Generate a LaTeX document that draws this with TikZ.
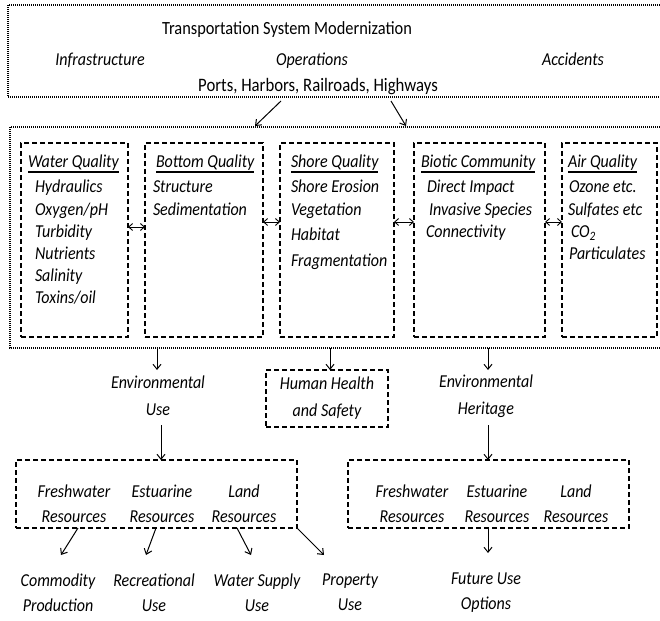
\documentclass[tikz,border=0pt]{standalone}
\usepackage{fontspec}
\setmainfont{Carlito}[FakeStretch=0.88]
\usetikzlibrary{arrows.meta}
\begin{document}
\begin{tikzpicture}[x=1pt,y=-1pt,
  every node/.style={inner sep=0pt, outer sep=0pt},
  lbl/.style={font=\fontsize{18.2}{25}\selectfont\itshape, align=center},
  lblb/.style={font=\fontsize{18.2}{27}\selectfont\itshape, align=center},
  item/.style={font=\fontsize{18.2}{22}\selectfont\itshape, anchor=base west},
  hdr/.style={font=\fontsize{18.2}{22}\selectfont\itshape, anchor=base west, text depth=4pt},
  ttl/.style={font=\fontsize{18.6}{20}\selectfont, anchor=base},
  top/.style={font=\fontsize{18.2}{20}\selectfont\itshape, anchor=base},
  dotbox/.style={line width=1.3pt, dash pattern=on 1pt off 1pt},
  qbox/.style={draw, line width=1.4pt, dash pattern=on 5pt off 3pt, minimum height=194pt},
  rbox/.style={draw, line width=1.7pt, dash pattern=on 5pt off 3pt, minimum width=281pt, minimum height=68pt},
  hbox/.style={draw, line width=2.1pt, dash pattern=on 5pt off 3pt, minimum width=122pt, minimum height=57pt},
  arr/.style={-{Straight Barb[length=5pt,width=8pt]}, line width=1pt},
  darr/.style={{Straight Barb[length=4pt,width=7pt]}-{Straight Barb[length=4pt,width=7pt]}, line width=0.9pt},
  uline/.style={line width=1.4pt},
]
\useasboundingbox (0,0) rectangle (660,620);

% ---------- top box ----------
\node (sys) [minimum width=652pt, minimum height=92pt] at (334,51) {};
\draw[dotbox] (sys.north east) -- (sys.north west) -- (sys.south west) -- (sys.south east);
\node[ttl] (title) at (287,35) {Transportation System Modernization};
\node[top] (infra) at (100,66) {Infrastructure};
\node[top] (oper) at (312,66) {Operations};
\node[top] (acc) at (573,66) {Accidents};
\node[font=\fontsize{19}{20}\selectfont, anchor=base] (ports) at (318,92) {Ports, Harbors, Railroads, Highways};

% ---------- environment box ----------
\node (env) [minimum width=650pt, minimum height=221pt] at (335,237.5) {};
\draw[dotbox] (env.north east) -- (env.north west) -- (env.south west) -- (env.south east);

\coordinate (a1s) at (281,101);
\coordinate (a1e) at (255,126);
\coordinate (a2s) at (391,101);
\coordinate (a2e) at (406,126);
\draw[arr] (a1s) -- (a1e);
\draw[arr] (a2s) -- (a2e);

% ---------- quality boxes ----------
\node[qbox, minimum width=107pt] (wq) at (74.5,240) {};
\node[qbox, minimum width=118pt] (bq) at (204,240) {};
\node[qbox, minimum width=114pt] (sq) at (337,240) {};
\node[qbox, minimum width=131pt] (bc) at (479.5,240) {};
\node[qbox, minimum width=95pt] (aq) at (609.5,240) {};

\node[hdr] (h1) at (28,168) {Water Quality};
\node[hdr] (h2) at (156,168) {Bottom Quality};
\node[hdr] (h3) at (291,168) {Shore Quality};
\node[hdr] (h4) at (421,168) {Biotic Community};
\node[hdr] (h5) at (568,168) {Air Quality};
\foreach \h in {h1,h2,h3,h4,h5}
  \draw[uline] (\h.south west) -- (\h.south east);

\node[item] (w1) at (35,193) {Hydraulics};
\node[item] (w2) at (35,215) {Oxygen/pH};
\node[item] (w3) at (35,237) {Turbidity};
\node[item] (w4) at (35,259) {Nutrients};
\node[item] (w5) at (35,281) {Salinity};
\node[item] (w6) at (35,303) {Toxins/oil};

\node[item] (b1) at (153,193) {Structure};
\node[item] (b2) at (153,215) {Sedimentation};

\node[item] (s1) at (291,193) {Shore Erosion};
\node[item] (s2) at (291,215) {Vegetation};
\node[item] (s3) at (291,240) {Habitat};
\node[item] (s4) at (291,266) {Fragmentation};

\node[item] (c1) at (427,193) {Direct Impact};
\node[item] (c2) at (429,215) {Invasive Species};
\node[item] (c3) at (426,237) {Connectivity};

\node[item] (r1) at (569,193) {Ozone etc.};
\node[item] (r2) at (568,215) {Sulfates etc};
\node[item] (r3) at (571,237.5) {CO\textsubscript{2}};
\node[item] (r4) at (569,259.5) {Particulates};

\coordinate (y1) at (0,227);
\coordinate (y2) at (0,222);
\draw[darr] (wq.east |- y1) -- (bq.west |- y1);
\draw[darr] (bq.east |- y2) -- (sq.west |- y2);
\draw[darr] (sq.east |- y2) -- (bc.west |- y2);
\draw[darr] (bc.east |- y2) -- (aq.west |- y2);

% ---------- middle row ----------
\node[lblb] (eu) at (158,396) {Environmental\\Use};
\node[hbox] (hh) at (327,398.5) {};
\node[lblb] (hht) at (327,398) {Human Health\\and Safety};
\node[lblb] (eh) at (486,396) {Environmental\\Heritage};

\coordinate (d1) at (157,348);
\coordinate (d1e) at (157,370);
\coordinate (d2) at (330,348);
\coordinate (d3) at (488,348);
\coordinate (d3e) at (488,370);
\draw[arr] (d1) -- (d1e);
\draw[arr] (d2) -- (hh.north -| d2);
\draw[arr] (d3) -- (d3e);

% ---------- resource boxes ----------
\node[rbox] (lb) at (156.5,494) {};
\node[rbox] (rb) at (488.5,494) {};
\node[lbl] (fw1) at (74,503.5) {Freshwater\\Resources};
\node[lbl] (es1) at (162,503.5) {Estuarine\\Resources};
\node[lbl] (ld1) at (244,503.5) {Land\\Resources};
\node[lbl] (fw2) at (412,503.5) {Freshwater\\Resources};
\node[lbl] (es2) at (497,503.5) {Estuarine\\Resources};
\node[lbl] (ld2) at (576,503.5) {Land\\Resources};

\coordinate (u1) at (161,425);
\coordinate (u2) at (488,425);
\draw[arr] (u1) -- (lb.north -| u1);
\draw[arr] (u2) -- (rb.north -| u2);

% ---------- outcomes ----------
\node[lbl] (cp) at (58,592.5) {Commodity\\Production};
\node[lbl] (ru) at (154,592.5) {Recreational\\Use};
\node[lbl] (ws) at (257,592.5) {Water Supply\\Use};
\node[lbl] (pu) at (350,592.5) {Property\\Use};
\node[lbl] (fu) at (486,592.5) {Future Use\\Options};

\coordinate (o1s) at (78,528);  \coordinate (o1e) at (61,555);
\coordinate (o2s) at (156,528); \coordinate (o2e) at (146,555);
\coordinate (o3s) at (237,528); \coordinate (o3e) at (251,555);
\coordinate (o4e) at (324,555);
\coordinate (o5e) at (488,553);
\draw[arr] (o1s) -- (o1e);
\draw[arr] (o2s) -- (o2e);
\draw[arr] (o3s) -- (o3e);
\draw[arr] (lb.south east) -- (o4e);
\draw[arr] (rb.south -| o5e) -- (o5e);
\end{tikzpicture}
\end{document}
